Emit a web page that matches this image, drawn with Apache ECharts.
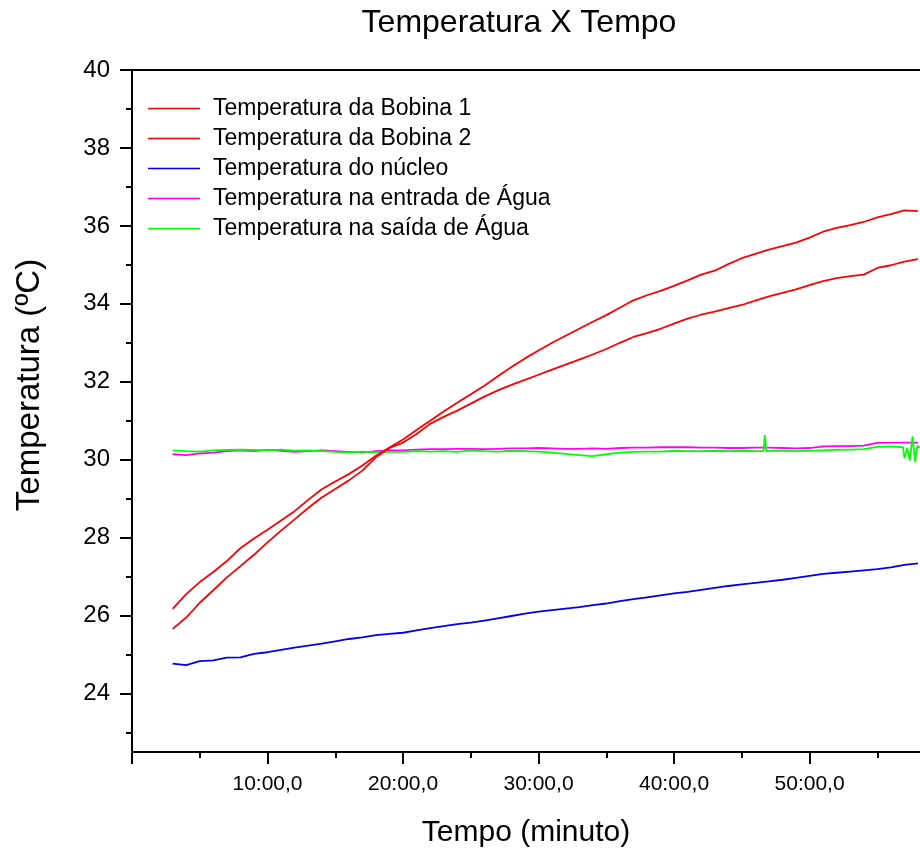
<!DOCTYPE html>
<html>
<head>
    <meta charset="utf-8">
    <title>Temperatura X Tempo</title>
    <script src="https://cdn.jsdelivr.net/npm/echarts@6/dist/echarts.min.js"></script>
</head>
<body style="margin:0">
    <div id="main" style="width: 920px;height:853px;"></div>
    <script type="text/javascript">
        // tempo em minutos (uma leitura por minuto)
        const tempo = [3, 4, 5, 6, 7, 8, 9, 10, 11, 12, 13, 14, 15, 16, 17, 18, 19, 20, 21, 22, 23, 24, 25, 26, 27, 28, 29, 30,
            31, 32, 33, 34, 35, 36, 37, 38, 39, 40, 41, 42, 43, 44, 45, 46, 47, 48, 49, 50, 51, 52, 53, 54, 55, 56, 57, 58];

        const bobina1 = [26.17, 26.55, 26.86, 27.12, 27.40, 27.73, 27.98, 28.20, 28.44, 28.68, 28.97, 29.24, 29.44, 29.63,
            29.85, 30.10, 30.31, 30.52, 30.76, 31.00, 31.24, 31.46, 31.68, 31.90, 32.14, 32.38, 32.60, 32.80, 33.00, 33.18,
            33.36, 33.54, 33.71, 33.90, 34.09, 34.22, 34.33, 34.46, 34.60, 34.75, 34.85, 35.02, 35.17, 35.28, 35.39, 35.48,
            35.57, 35.70, 35.85, 35.95, 36.02, 36.10, 36.22, 36.30, 36.40, 36.38];

        const bobina2 = [25.66, 25.95, 26.33, 26.65, 26.98, 27.27, 27.56, 27.88, 28.18, 28.47, 28.76, 29.03, 29.25, 29.47,
            29.72, 30.06, 30.30, 30.44, 30.66, 30.92, 31.10, 31.26, 31.44, 31.62, 31.78, 31.92, 32.05, 32.18, 32.31, 32.44,
            32.57, 32.70, 32.84, 33.00, 33.15, 33.25, 33.36, 33.49, 33.62, 33.72, 33.80, 33.89, 33.97, 34.08, 34.19, 34.28,
            34.37, 34.48, 34.58, 34.66, 34.71, 34.75, 34.92, 34.99, 35.08, 35.15];

        const nucleo = [24.77, 24.73, 24.83, 24.85, 24.92, 24.93, 25.02, 25.06, 25.12, 25.18, 25.23, 25.28, 25.34, 25.40,
            25.44, 25.50, 25.53, 25.56, 25.62, 25.68, 25.73, 25.78, 25.82, 25.87, 25.93, 25.99, 26.05, 26.10, 26.14, 26.18,
            26.22, 26.27, 26.31, 26.37, 26.42, 26.47, 26.52, 26.57, 26.61, 26.66, 26.71, 26.76, 26.80, 26.84, 26.88, 26.92,
            26.97, 27.02, 27.07, 27.10, 27.13, 27.16, 27.19, 27.24, 27.30, 27.34];

        const entrada = [30.14, 30.12, 30.16, 30.18, 30.22, 30.24, 30.22, 30.25, 30.23, 30.20, 30.22, 30.24, 30.22, 30.20,
            30.18, 30.22, 30.24, 30.24, 30.26, 30.27, 30.27, 30.28, 30.28, 30.27, 30.28, 30.29, 30.29, 30.30, 30.29, 30.28,
            30.28, 30.29, 30.28, 30.30, 30.31, 30.31, 30.32, 30.32, 30.32, 30.31, 30.31, 30.30, 30.30, 30.31, 30.31, 30.30,
            30.29, 30.30, 30.34, 30.35, 30.35, 30.36, 30.43, 30.44, 30.44, 30.44];

        // a saída de água tem alguns picos, por isso tem o seu próprio tempo
        const tempoSaida = [3, 4, 5, 6, 7, 8, 9, 10, 11, 12, 13, 14, 15, 16, 17, 18, 19, 20, 21, 22, 23, 24, 25, 26, 27, 28,
            29, 30, 31, 32, 33, 34, 35, 36, 37, 38, 39, 40, 41, 42, 43, 44, 45, 46, 46.6, 46.7, 46.8, 47, 48, 49, 50, 51, 52,
            53, 54, 55, 56, 56.9, 57.0, 57.2, 57.4, 57.5, 57.6, 57.7, 57.8, 57.9, 58.0, 58.1];
        const saida = [30.24, 30.22, 30.21, 30.24, 30.25, 30.26, 30.25, 30.24, 30.26, 30.23, 30.24, 30.22, 30.20, 30.19,
            30.21, 30.19, 30.20, 30.20, 30.22, 30.21, 30.22, 30.20, 30.24, 30.22, 30.21, 30.23, 30.22, 30.21, 30.18, 30.15,
            30.12, 30.09, 30.14, 30.18, 30.20, 30.21, 30.21, 30.23, 30.22, 30.22, 30.23, 30.22, 30.23, 30.22, 30.22, 30.63,
            30.22, 30.23, 30.23, 30.22, 30.23, 30.24, 30.25, 30.26, 30.27, 30.33, 30.34, 30.32, 30.04, 30.30, 29.98, 30.30,
            30.60, 30.25, 29.94, 30.28, 30.36, 30.30];

        // marcas dos eixos
        const yTicks = [24, 26, 28, 30, 32, 34, 36, 38, 40];
        const yMinorTicks = [23, 25, 27, 29, 31, 33, 35, 37, 39];
        const xTicks = [0, 10, 20, 30, 40, 50];
        const xLabels = [10, 20, 30, 40, 50];
        const xMinorTicks = [5, 15, 25, 35, 45, 55];

        const nomes = ['Temperatura da Bobina 1', 'Temperatura da Bobina 2', 'Temperatura do núcleo',
            'Temperatura na entrada de Água', 'Temperatura na saída de Água'];

        const fonte = '"Liberation Sans", Arial, sans-serif';

        function pares(t, v) {
            return t.map((x, i) => [x, v[i]]);
        }

        function linha(nome, cor, dados, z) {
            return {
                name: nome,
                type: 'line',
                symbol: 'none',
                z: z,
                lineStyle: { color: cor, width: 1.8 },
                itemStyle: { color: cor },
                data: dados
            };
        }

        let myChart = echarts.init(document.getElementById('main'));

        let option = {
            animation: false,
            backgroundColor: '#fff',
            grid: { left: 132, right: 0, top: 70, bottom: 101 },
            graphic: [
                {
                    type: 'text', x: 519, y: 23,
                    style: { text: 'Temperatura X Tempo', fontSize: 32, fontFamily: fonte, fill: '#000', align: 'center', verticalAlign: 'middle' }
                },
                {
                    type: 'text', x: 30, y: 385, rotation: Math.PI / 2,
                    style: { text: 'Temperatura (ºC)', fontSize: 33, fontFamily: fonte, fill: '#000', align: 'center', verticalAlign: 'middle' }
                },
                {
                    type: 'text', x: 526, y: 833,
                    style: { text: 'Tempo (minuto)', fontSize: 30, fontFamily: fonte, fill: '#000', align: 'center', verticalAlign: 'middle' }
                }
            ],
            legend: {
                orient: 'vertical',
                left: 143,
                top: 92,
                icon: 'rect',
                itemWidth: 52,
                itemHeight: 1.6,
                itemGap: 7,
                textStyle: { fontSize: 23, lineHeight: 21, fontFamily: fonte, color: '#000', padding: [0, 0, 0, 8] },
                data: nomes
            },
            xAxis: [
                {
                    type: 'value', min: 0, max: 58.15, position: 'bottom',
                    axisLine: { show: true, lineStyle: { color: '#000', width: 2 } },
                    axisTick: { show: true, customValues: xTicks, length: 12, lineStyle: { color: '#000', width: 2 } },
                    axisLabel: {
                        customValues: xLabels, fontSize: 21, fontFamily: fonte, color: '#000', margin: 22,
                        formatter: v => v + ':00,0'
                    },
                    splitLine: { show: false }
                },
                {
                    type: 'value', min: 0, max: 58.15, position: 'bottom',
                    axisLine: { show: false },
                    axisTick: { show: true, customValues: xMinorTicks, length: 6, lineStyle: { color: '#000', width: 2 } },
                    axisLabel: { show: false },
                    splitLine: { show: false }
                },
                {
                    type: 'value', min: 0, max: 58.15, position: 'top',
                    axisLine: { show: true, lineStyle: { color: '#000', width: 2 } },
                    axisTick: { show: false },
                    axisLabel: { show: false },
                    splitLine: { show: false }
                }
            ],
            yAxis: [
                {
                    type: 'value', min: 22.5, max: 40, position: 'left',
                    axisLine: { show: true, lineStyle: { color: '#000', width: 2 } },
                    axisTick: { show: true, customValues: yTicks, length: 12, lineStyle: { color: '#000', width: 2 } },
                    axisLabel: { customValues: yTicks, fontSize: 24, fontFamily: fonte, color: '#000', margin: 22 },
                    splitLine: { show: false }
                },
                {
                    type: 'value', min: 22.5, max: 40, position: 'left',
                    axisLine: { show: false },
                    axisTick: { show: true, customValues: yMinorTicks, length: 6, lineStyle: { color: '#000', width: 2 } },
                    axisLabel: { show: false },
                    splitLine: { show: false }
                }
            ],
            series: [
                linha(nomes[2], '#0000ee', pares(tempo, nucleo), 2),
                linha(nomes[3], '#ff00ff', pares(tempo, entrada), 2),
                linha(nomes[4], '#00ff00', pares(tempoSaida, saida), 3),
                linha(nomes[0], '#ff0000', pares(tempo, bobina1), 4),
                linha(nomes[1], '#ff0000', pares(tempo, bobina2), 4)
            ]
        };

        myChart.setOption(option);
    </script>
</body>
</html>
